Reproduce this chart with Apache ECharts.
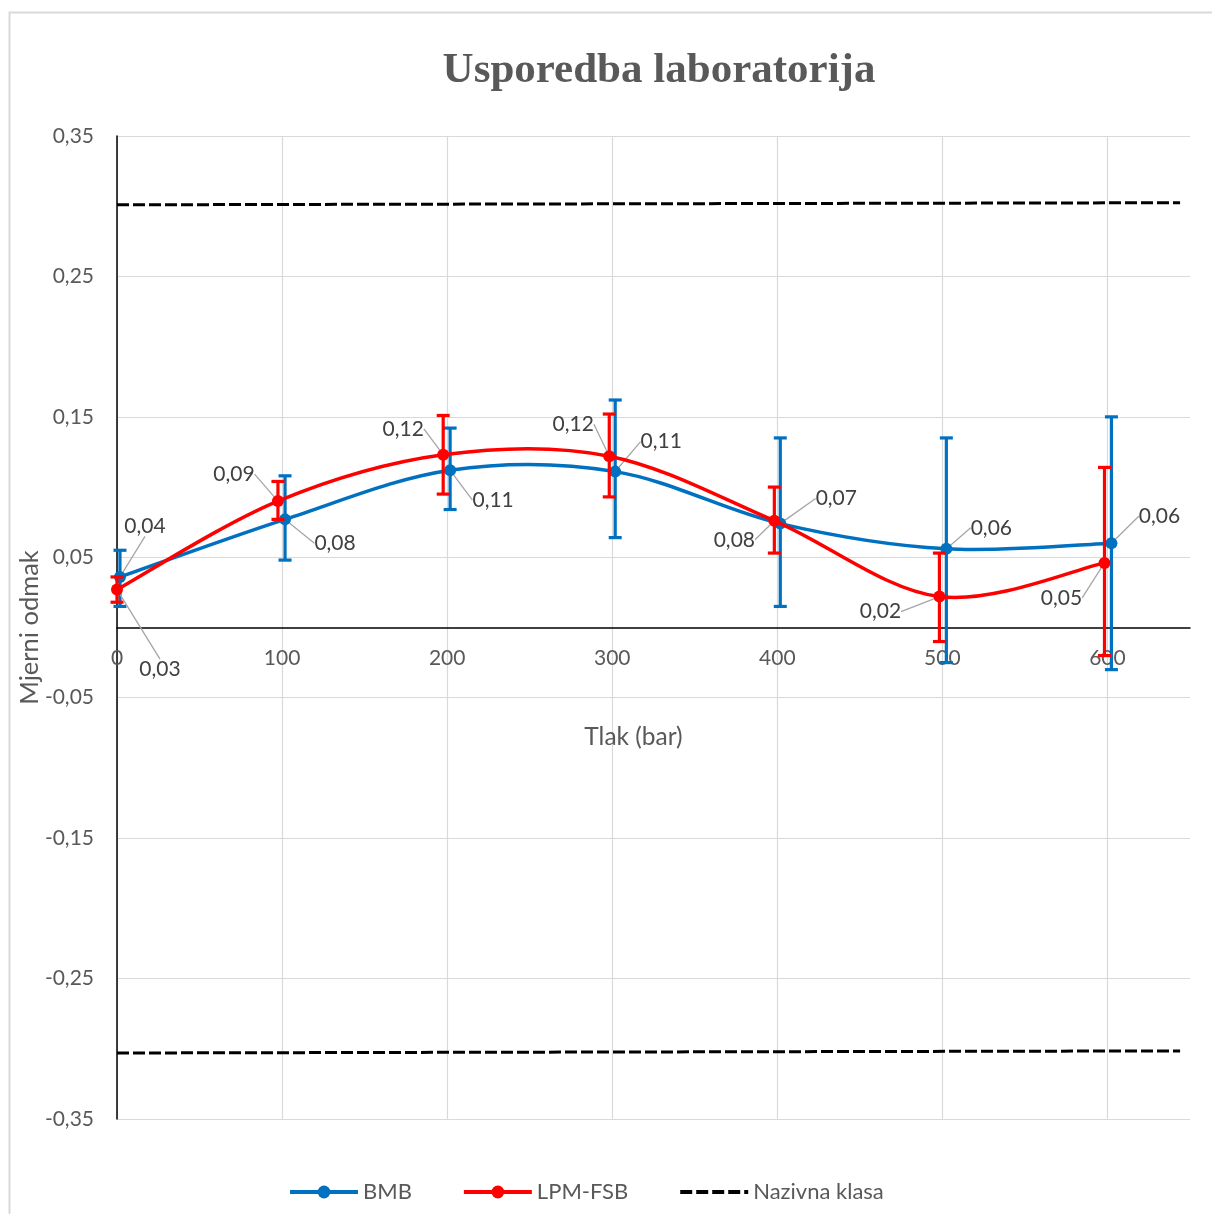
<!DOCTYPE html>
<html><head><meta charset="utf-8">
<script src="https://cdn.jsdelivr.net/npm/echarts@6/dist/echarts.min.js"></script>
<style>html,body{margin:0;padding:0;background:#fff}#c{width:1212px;height:1214px}</style>
</head><body><div id="c"></div>
<script>
// ---- data ----
const seriesNames = ['BMB', 'LPM-FSB', 'Nazivna klasa'];
const xTicks = [0, 100, 200, 300, 400, 500, 600];
const yTicks = [-0.35, -0.25, -0.15, -0.05, 0.05, 0.15, 0.25, 0.35];

const bmbX  = [1.8, 101.8, 201.8, 301.8, 401.8, 502.4, 602.4];
const bmbY  = [0.036, 0.077, 0.112, 0.111, 0.074, 0.056, 0.060];
const bmbHi = [0.055, 0.108, 0.142, 0.162, 0.135, 0.135, 0.150];
const bmbLo = [0.015, 0.048, 0.084, 0.064, 0.015, -0.025, -0.030];

const lpmX  = [0, 97.5, 197.6, 298.2, 398.2, 498.2, 598.2];
const lpmY  = [0.027, 0.090, 0.123, 0.122, 0.076, 0.022, 0.046];
const lpmHi = [0.036, 0.104, 0.151, 0.152, 0.100, 0.053, 0.114];
const lpmLo = [0.018, 0.077, 0.095, 0.093, 0.053, -0.010, -0.020];

const klasaX     = [0, 644];
const klasaUpper = [0.301, 0.3025];
const klasaLower = [-0.303, -0.3015];

// ---- label offsets (layout, px) ----
const bmbLabelDx = [25, 50, 43, 46, 56, 45, 48];
const bmbLabelDy = [-51, 24, 30, -30, -25, -21, -27];
const lpmLabelDx = [43, -44, -40, -36, -40, -59, -43];
const lpmLabelDy = [80, -27, -26, -32, 19, 15, 35];

const BLUE = '#0070C0', RED = '#FF0000', GREY = '#595959';
const FONT = 'Lato';
const GRID_TOP = 136, GRID_BOTTOM = 95, CHART_H = 1214;

function fmt(v) { return (Math.round(v * 100) / 100).toFixed(2).replace('.', ','); }
function zip(xs, ys) { return xs.map((x, i) => [x, ys[i]]); }

// error bars drawn through the axes' scales
function errorSeries(name, xs, lo, hi, color, z) {
  return {
    type: 'custom', name: name + ' err', z: z, silent: true,
    encode: { x: 0, y: [1, 2] },
    data: xs.map((x, i) => [x, lo[i], hi[i]]),
    renderItem: function (params, api) {
      const x = api.value(0);
      const p1 = api.coord([x, api.value(1)]);
      const p2 = api.coord([x, api.value(2)]);
      const cw = 6.5;
      const st = { stroke: color, lineWidth: 3.2 };
      return { type: 'group', children: [
        { type: 'line', shape: { x1: p1[0], y1: p1[1], x2: p2[0], y2: p2[1] }, style: st },
        { type: 'line', shape: { x1: p1[0] - cw, y1: p1[1], x2: p1[0] + cw, y2: p1[1] }, style: st },
        { type: 'line', shape: { x1: p2[0] - cw, y1: p2[1], x2: p2[0] + cw, y2: p2[1] }, style: st }
      ]};
    }
  };
}

// Excel-style smoothed line (Catmull-Rom bezier segments between the data points)
function curveSeries(name, xs, ys, color, z) {
  const n = xs.length;
  return {
    type: 'custom', name: name + ' curve', z: z, silent: true,
    encode: { x: 0, y: 1 },
    data: xs.slice(0, n - 1).map((x, i) => [x, ys[i], i]),
    renderItem: function (params, api) {
      const i = api.value(2);
      const P = k => { const j = Math.max(0, Math.min(n - 1, k)); return api.coord([xs[j], ys[j]]); };
      const p0 = P(i - 1), p1 = P(i), p2 = P(i + 1), p3 = P(i + 2);
      const t = 1 / 6;
      return {
        type: 'bezierCurve',
        shape: {
          x1: p1[0], y1: p1[1], x2: p2[0], y2: p2[1],
          cpx1: p1[0] + (p2[0] - p0[0]) * t, cpy1: p1[1] + (p2[1] - p0[1]) * t,
          cpx2: p2[0] - (p3[0] - p1[0]) * t, cpy2: p2[1] - (p3[1] - p1[1]) * t
        },
        style: { stroke: color, lineWidth: 3.5, fill: null, lineCap: 'round' }
      };
    }
  };
}

function pointSeries(name, xs, ys, color, dx, dy, z) {
  return {
    type: 'line', name: name, z: z,
    data: zip(xs, ys),
    symbol: 'circle', symbolSize: 12,
    lineStyle: { color: color, width: 3.5, opacity: 0 },
    itemStyle: { color: color },
    label: {
      show: true, position: 'inside',
      formatter: p => fmt(p.value[1]),
      fontFamily: FONT, fontSize: 21, color: '#404040'
    },
    labelLine: { show: true, lineStyle: { color: '#a6a6a6', width: 1.3 } },
    labelLayout: function (p) { return { dx: dx[p.dataIndex], dy: dy[p.dataIndex] }; },
    clip: false
  };
}

const yMin = -0.35, yMax = 0.35;
const plotH = CHART_H - GRID_TOP - GRID_BOTTOM;
const zeroOffset = -plotH * (0 - yMin) / (yMax - yMin);

const chart = echarts.init(document.getElementById('c'));
chart.setOption({
  animation: false,
  backgroundColor: '#fff',
  graphic: [{
    type: 'rect', shape: { x: 9.5, y: 12.5, width: 1230, height: 1230 },
    style: { fill: 'none', stroke: '#d9d9d9', lineWidth: 2 }, silent: true, z: -10
  }],
  title: {
    text: 'Usporedba laboratorija', left: 654, top: 44, textAlign: 'center',
    textStyle: { fontFamily: 'Liberation Serif', fontWeight: 'bold', fontSize: 43, color: GREY }
  },
  legend: {
    data: [
      { name: seriesNames[0] },
      { name: seriesNames[1] },
      { name: seriesNames[2], itemStyle: { opacity: 0 } }
    ],
    left: 283, top: 1176,
    itemWidth: 68, itemHeight: 16, itemGap: 50,
    lineStyle: { width: 4, opacity: 1 },
    textStyle: { fontFamily: FONT, fontSize: 22, color: GREY }
  },
  grid: { left: 117, top: GRID_TOP, right: 22, bottom: GRID_BOTTOM, containLabel: false, outerBoundsMode: 'none' },
  xAxis: {
    type: 'value', min: 0, max: 650, interval: 100,
    position: 'bottom', offset: zeroOffset,
    name: 'Tlak (bar)', nameLocation: 'middle', nameGap: 97, nameMoveOverlap: false,
    nameTextStyle: { fontFamily: FONT, fontSize: 24.5, color: GREY, padding: [0, 40, 0, 0] },
    axisLine: { onZero: false, lineStyle: { color: '#000', width: 1.5 } },
    axisTick: { show: false },
    axisLabel: {
      margin: 20, fontFamily: FONT, fontSize: 21, color: GREY, showMaxLabel: false,
      formatter: v => (xTicks.indexOf(v) >= 0 ? String(v) : '')
    },
    splitLine: { show: true, showMaxLine: false, lineStyle: { color: '#d9d9d9', width: 1.2 } }
  },
  yAxis: {
    type: 'value', min: yMin, max: yMax, interval: 0.1,
    name: 'Mjerni odmak', nameLocation: 'middle', nameGap: 74, nameMoveOverlap: false,
    nameTextStyle: { fontFamily: FONT, fontSize: 25.5, color: GREY },
    axisLine: { show: true, lineStyle: { color: '#000', width: 1.5 } },
    axisTick: { show: false },
    axisLabel: {
      margin: 23, fontFamily: FONT, fontSize: 21, color: GREY,
      formatter: v => {
        const t = yTicks.find(k => Math.abs(k - v) < 1e-6);
        return t === undefined ? '' : t.toFixed(2).replace('.', ',');
      }
    },
    splitLine: { show: true, lineStyle: { color: '#d9d9d9', width: 1.2 } }
  },
  series: [
    {
      type: 'line', name: 'Nazivna klasa', data: zip(klasaX, klasaUpper), symbol: 'none', z: 2,
      lineStyle: { color: '#000', width: 3, type: [12, 4] }, itemStyle: { color: '#000' }
    },
    {
      type: 'line', name: 'Nazivna klasa', data: zip(klasaX, klasaLower), symbol: 'none', z: 2,
      lineStyle: { color: '#000', width: 3, type: [12, 4] }, itemStyle: { color: '#000' }
    },
    errorSeries('BMB', bmbX, bmbLo, bmbHi, BLUE, 3),
    curveSeries('BMB', bmbX, bmbY, BLUE, 4),
    pointSeries('BMB', bmbX, bmbY, BLUE, bmbLabelDx, bmbLabelDy, 5),
    errorSeries('LPM-FSB', lpmX, lpmLo, lpmHi, RED, 6),
    curveSeries('LPM-FSB', lpmX, lpmY, RED, 7),
    pointSeries('LPM-FSB', lpmX, lpmY, RED, lpmLabelDx, lpmLabelDy, 8)
  ]
});
</script>
</body></html>
